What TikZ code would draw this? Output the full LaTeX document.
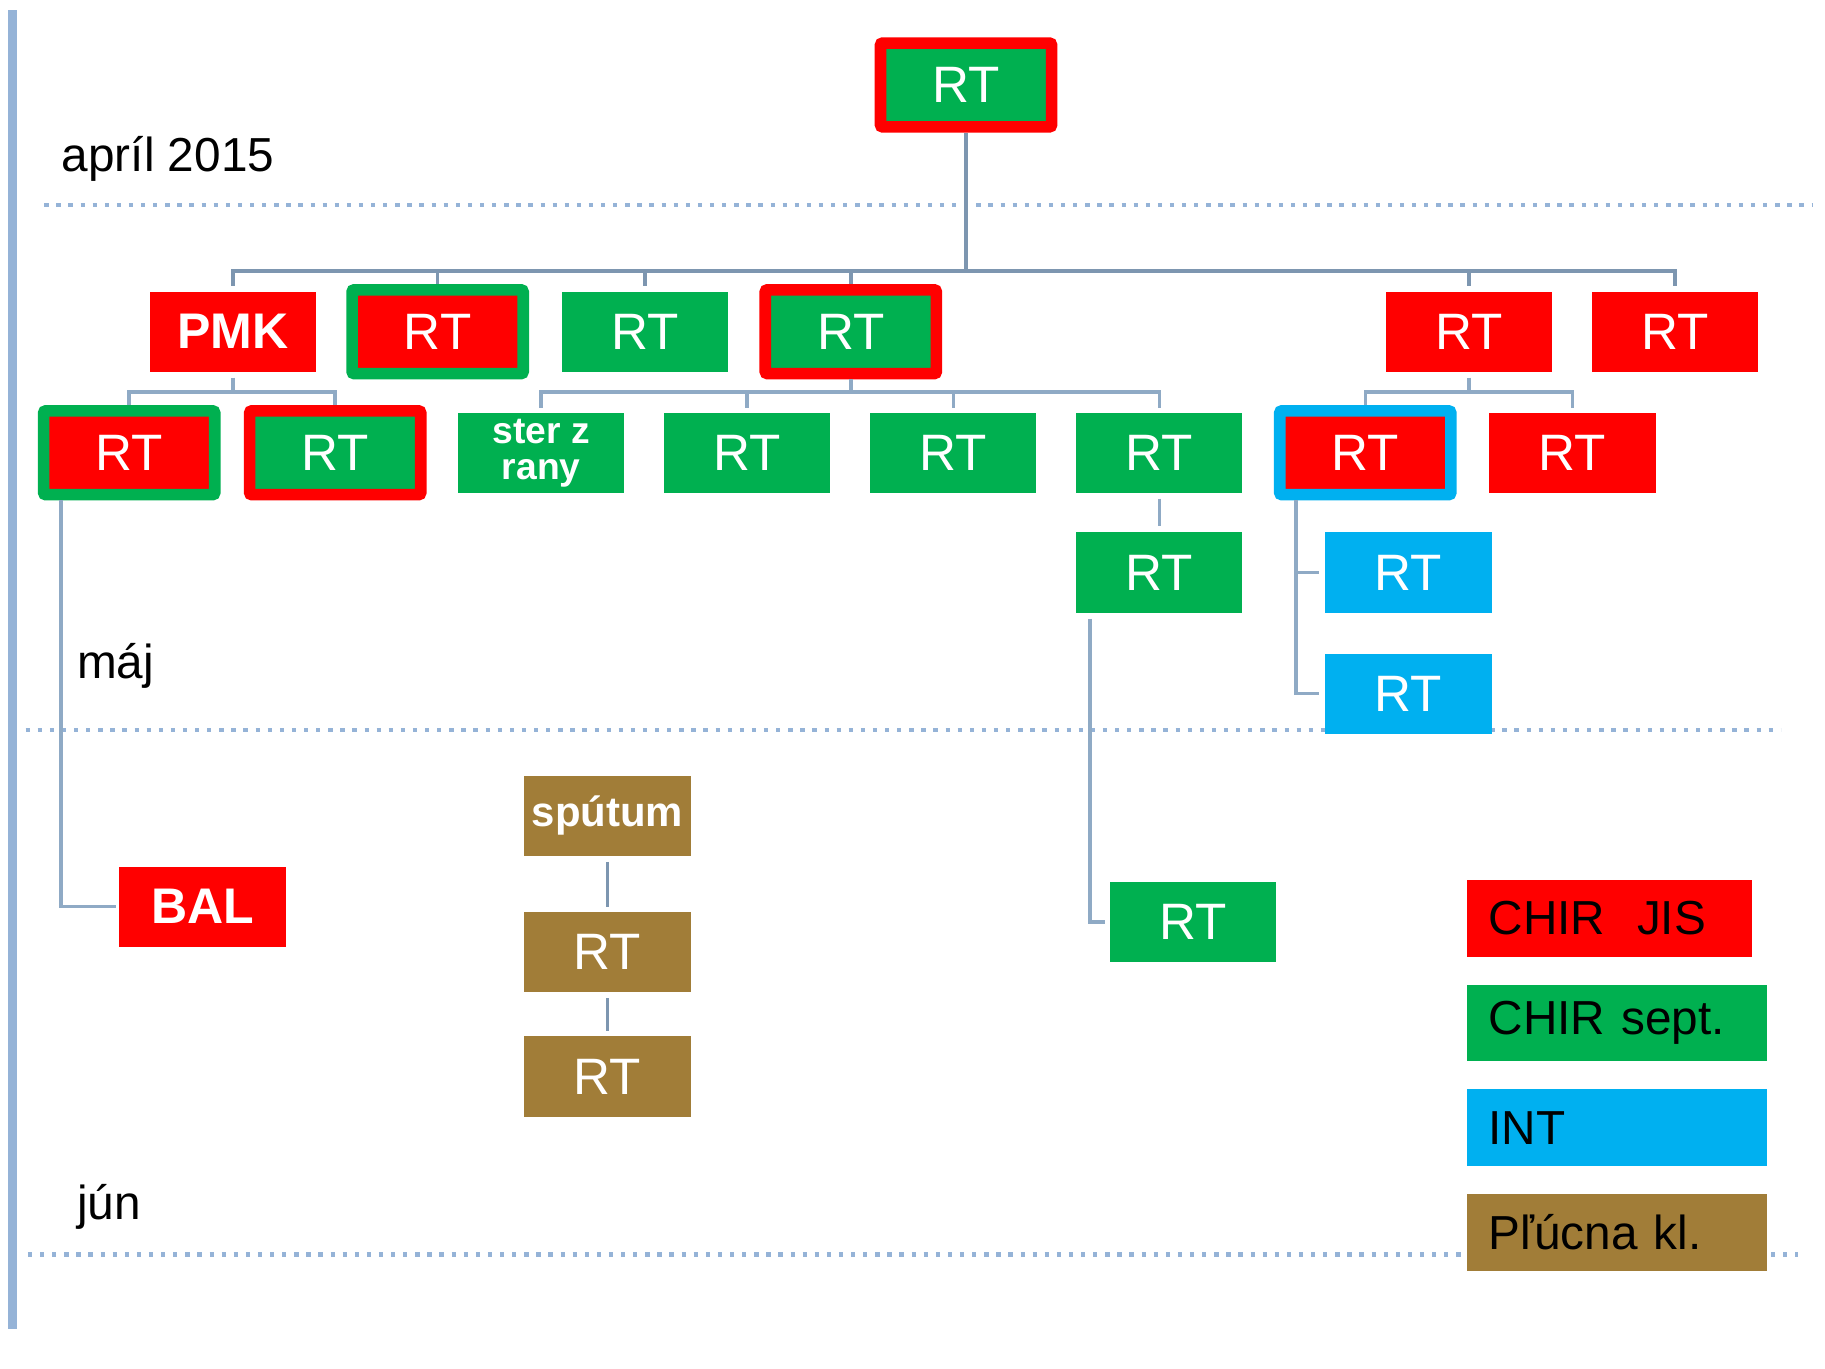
\documentclass[tikz,border=0pt]{standalone}
\usepackage{fontspec}
\setmainfont{Liberation Sans}
\usetikzlibrary{calc}
\definecolor{cred}{HTML}{FF0000}
\definecolor{cgreen}{HTML}{00B050}
\definecolor{cblue}{HTML}{00B0F0}
\definecolor{cbrown}{HTML}{A17D38}
\definecolor{cdot}{HTML}{95B3D7}
\definecolor{clineA}{HTML}{7D96B0}
\definecolor{clineB}{HTML}{8FAAC5}
\begin{document}
\begin{tikzpicture}[x=1pt,y=-1pt,
  plainbox/.style={minimum width=143pt, minimum height=69pt, inner sep=0pt, outer sep=0pt, text=white, font=\fontsize{44}{48}\selectfont},
  framedbox/.style={minimum width=147pt, minimum height=72pt, inner sep=0pt, outer sep=5pt, line width=10pt, rounded corners=2pt, text=white, font=\fontsize{44}{48}\selectfont},
  boldtxt/.style={font=\fontsize{43}{48}\selectfont\bfseries},
  legendbox/.style={minimum height=66pt, inner xsep=19pt, inner ysep=0pt, outer sep=0pt, anchor=west, align=left, text=black, font=\fontsize{41}{46}\selectfont},
  timelbl/.style={anchor=base west, inner sep=0pt, text=black, font=\fontsize{41}{46}\selectfont},
  dotline/.style={draw=cdot, line width=3.9pt, dash pattern=on 3.7pt off 6.7pt},
  connA/.style={draw=clineA, line width=3pt},
  connB/.style={draw=clineB, line width=3pt},
]
\useasboundingbox (0,0) rectangle (1568,1176);
\fill[white] (0,0) rectangle (1568,1176);

% left bar
\fill[cdot] (7,9) rectangle (15,1142);

% dotted month separators
\draw[dotline] (38,176) -- (1558,176);
\draw[dotline] (22,627) -- (1530,627);
\draw[dotline] (24,1078) -- (1545,1078);

% month labels
\node[timelbl] (apr) at (53,147) {apríl 2015};
\node[timelbl] (maj) at (66,583) {máj};
\node[timelbl] (jun) at (66,1048) {jún};

% nodes
\node[framedbox, draw=cred, fill=cgreen] (top) at (830,73) {RT};

\node[plainbox, fill=cred, boldtxt] (pmk) at (200,285) {PMK};
\node[framedbox, draw=cgreen, fill=cred] (r1) at (376,285) {RT};
\node[plainbox, fill=cgreen] (r2) at (554,285) {RT};
\node[framedbox, draw=cred, fill=cgreen] (r3) at (731,285) {RT};
\node[plainbox, fill=cred] (r4) at (1262,285) {RT};
\node[plainbox, fill=cred] (r5) at (1439,285) {RT};

\node[framedbox, draw=cgreen, fill=cred] (a) at (111,389) {RT};
\node[framedbox, draw=cred, fill=cgreen] (b) at (288,389) {RT};
\node[plainbox, fill=cgreen, align=center, font=\fontsize{32}{31}\selectfont\bfseries] (c) at (465,389) {ster z\\rany};
\node[plainbox, fill=cgreen] (d) at (642,389) {RT};
\node[plainbox, fill=cgreen] (e) at (819,389) {RT};
\node[plainbox, fill=cgreen] (f) at (996,389) {RT};
\node[framedbox, draw=cblue, fill=cred] (g) at (1173,389) {RT};
\node[plainbox, fill=cred] (h) at (1351,389) {RT};

\node[plainbox, fill=cgreen] (f2) at (996,492) {RT};
\node[plainbox, fill=cblue] (g1) at (1210,492) {RT};
\node[plainbox, fill=cblue] (g2) at (1210,596) {RT};

\node[plainbox, fill=cred, boldtxt] (bal) at (174,779) {BAL};
\node[plainbox, fill=cgreen] (f3) at (1025,792) {RT};

\node[plainbox, fill=cbrown, font=\fontsize{36}{40}\selectfont\bfseries] (s1) at (522,701) {spútum};
\node[plainbox, fill=cbrown] (s2) at (522,818) {RT};
\node[plainbox, fill=cbrown] (s3) at (522,925) {RT};

% legend
\node[legendbox, fill=cred, text width=207pt] (l1) at (1260,789) {CHIR\ \ JIS};
\node[legendbox, fill=cgreen, text width=220pt] (l2) at (1260,879) {CHIR sept.};
\node[legendbox, fill=cblue, text width=220pt] (l3) at (1260,969) {INT};
\node[legendbox, fill=cbrown, text width=220pt] (l4) at (1260,1059) {Pľúcna kl.};

% connectors: top level
\coordinate (topbus) at (830,233);
\draw[connA] (top.south) -- (topbus);
\draw[connA] ([yshift=5pt]pmk.north) |- (topbus) -| ([yshift=5pt]r5.north);
\draw[connA] (r1.north) -- (r1.north |- topbus);
\draw[connA] ([yshift=5pt]r2.north) -- (r2.north |- topbus);
\draw[connA] (r3.north) -- (r3.north |- topbus);
\draw[connA] ([yshift=5pt]r4.north) -- (r4.north |- topbus);

% PMK children
\coordinate (busP) at (200,337);
\draw[connB] ([yshift=-5pt]pmk.south) -- (busP);
\draw[connB] (a.north) |- (busP) -| (b.north);

% r3 children
\coordinate (bus3) at (731,337);
\draw[connB] (r3.south) -- (bus3);
\draw[connB] ([yshift=4pt]c.north) |- (bus3) -| ([yshift=4pt]f.north);
\draw[connB] ([yshift=4pt]d.north) -- (d.north |- bus3);
\draw[connB] ([yshift=4pt]e.north) -- (e.north |- bus3);

% r4 children
\coordinate (bus4) at (1262,337);
\draw[connB] ([yshift=-5pt]r4.south) -- (bus4);
\draw[connB] (g.north) |- (bus4) -| ([yshift=4pt]h.north);

% f -> f2 -> f3
\draw[connB] ([yshift=-5pt]f.south) -- ([yshift=6pt]f2.north);
\draw[connB] ([shift={(12pt,-5pt)}]f2.south west) |- ([xshift=-4pt]f3.west);

% g -> g1, g2
\draw[connB] ([xshift=19pt]g.south west) |- ([xshift=-5pt]g2.west);
\draw[connB] ([xshift=19pt]g.south west |- g1.west) -- ([xshift=-5pt]g1.west);

% a -> bal
\draw[connB] ([xshift=20pt]a.south west) |- ([xshift=-3pt]bal.west);

% sputum chain
\draw[connA] ([yshift=-5pt]s1.south) -- ([yshift=4pt]s2.north);
\draw[connA] ([yshift=-5pt]s2.south) -- ([yshift=5pt]s3.north);
\end{tikzpicture}
\end{document}
